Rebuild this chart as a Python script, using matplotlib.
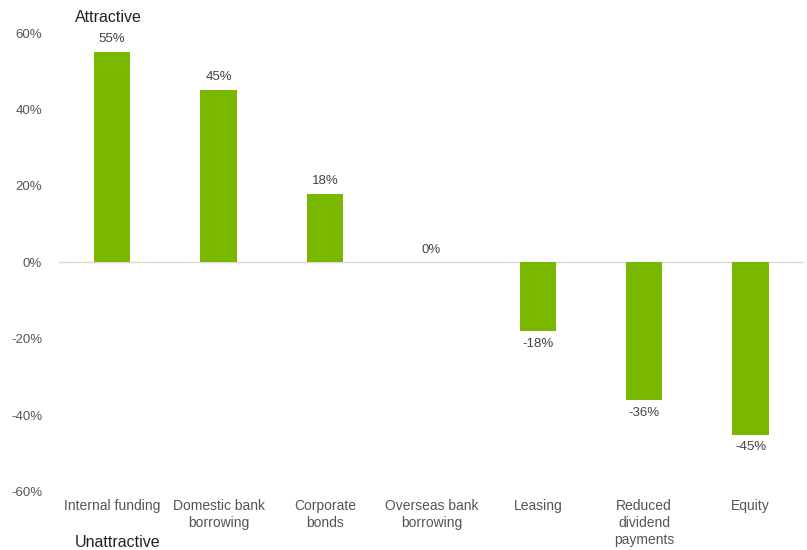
import matplotlib.pyplot as plt
import numpy as np

plt.rcParams['font.family'] = ['Liberation Sans', 'DejaVu Sans']

categories = ['Internal funding', 'Domestic bank\nborrowing', 'Corporate\nbonds',
              'Overseas bank\nborrowing', 'Leasing', 'Reduced\ndividend\npayments', 'Equity']
values = [55, 45, 18, 0, -18, -36, -45]
yticks = [-60, -40, -20, 0, 20, 40, 60]

fig = plt.figure(figsize=(8.07, 5.50), dpi=100)
ax = fig.add_axes([0.073, 0.1055, 0.923, 0.8345])

x = np.arange(len(categories))
ax.bar(x, values, width=0.34, color='#7ab800', zorder=2)
ax.axhline(0, color='#d9d9d9', lw=1, zorder=1)

for xi, v in zip(x, values):
    if v >= 0:
        ax.text(xi, v + 1.8, f'{v}%', ha='center', va='bottom', fontsize=9.5, color='#444444')
    else:
        ax.text(xi, v - 1.8, f'{v}%', ha='center', va='top', fontsize=9.5, color='#444444')

ax.set_xlim(-0.5, len(categories) - 0.5)
ax.set_ylim(-60, 60)
ax.set_yticks(yticks)
ax.set_yticklabels([f'{t}%' for t in yticks], fontsize=9.5, color='#555555')
ax.tick_params(axis='y', length=0, pad=12)
ax.set_xticks([])

for s in ax.spines.values():
    s.set_visible(False)

# category names sit just under the -60% level
for xi, c in zip(x, categories):
    ax.text(xi, -61.8, c, ha='center', va='top', fontsize=10, color='#555555',
            linespacing=1.3, clip_on=False)

fig.text(0.093, 0.968, 'Attractive', fontsize=11.5, color='#222222', va='center')
fig.text(0.093, 0.013, 'Unattractive', fontsize=11.5, color='#222222', va='center')

fig.savefig('out.png', dpi=100)
